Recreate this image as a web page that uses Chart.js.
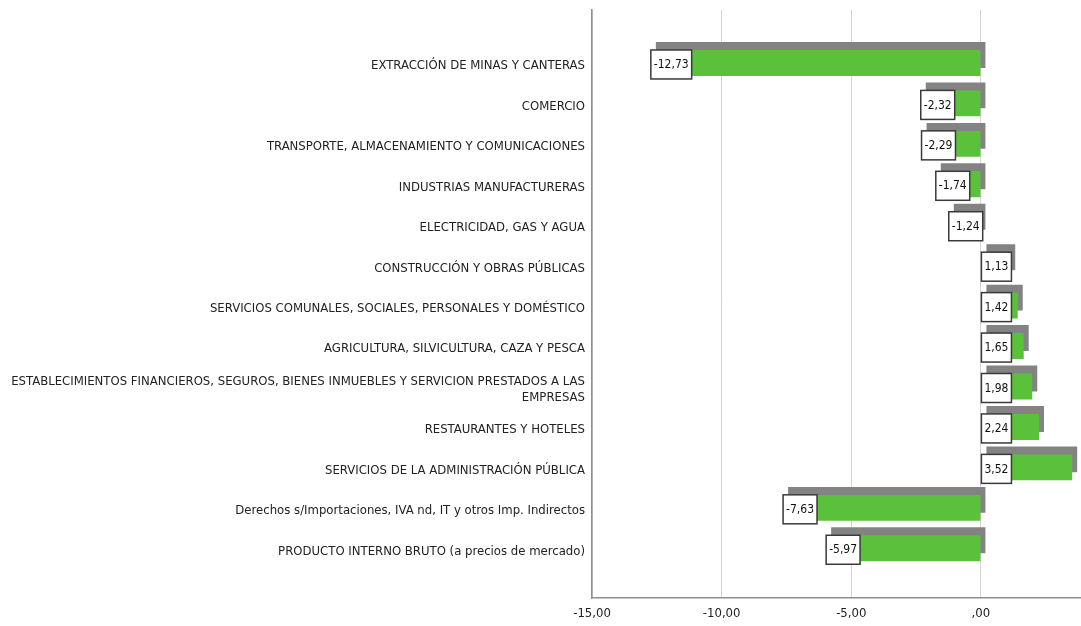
<!DOCTYPE html>
<html>
<head>
<meta charset="utf-8">
<script src="https://cdn.jsdelivr.net/npm/chart.js@4/dist/chart.umd.min.js"></script>
<style>
  body { margin: 0; background: #fff; }
  canvas { display: block; }
</style>
</head>
<body>
<canvas id="chart" width="1081" height="626"></canvas>
<script>
const categories = [
  'EXTRACCIÓN DE MINAS Y CANTERAS',
  'COMERCIO',
  'TRANSPORTE, ALMACENAMIENTO Y COMUNICACIONES',
  'INDUSTRIAS MANUFACTURERAS',
  'ELECTRICIDAD, GAS Y AGUA',
  'CONSTRUCCIÓN Y OBRAS PÚBLICAS',
  'SERVICIOS COMUNALES, SOCIALES, PERSONALES Y DOMÉSTICO',
  'AGRICULTURA, SILVICULTURA, CAZA Y PESCA',
  ['ESTABLECIMIENTOS FINANCIEROS, SEGUROS, BIENES INMUEBLES Y SERVICION PRESTADOS A LAS', 'EMPRESAS'],
  'RESTAURANTES Y HOTELES',
  'SERVICIOS DE LA ADMINISTRACIÓN PÚBLICA',
  'Derechos s/Importaciones, IVA nd, IT y otros Imp. Indirectos',
  'PRODUCTO INTERNO BRUTO (a precios de mercado)'
];
const values = [-12.73, -2.32, -2.29, -1.74, -1.24, 1.13, 1.42, 1.65, 1.98, 2.24, 3.52, -7.63, -5.97];
const xTicks = [-15, -10, -5, 0];

const FONT = "'Liberation Sans Narrow', 'Arial Narrow', 'DejaVu Sans Condensed', sans-serif";

// spss style numbers: comma decimal, no leading zero
const fmt = v => {
  let s = Math.abs(v).toFixed(2).replace('.', ',');
  if (s.startsWith('0,')) s = s.slice(1);
  return (v < 0 ? '-' : '') + s;
};

const shadowPlugin = {
  id: 'barShadow',
  beforeDatasetsDraw(chart) {
    const ctx = chart.ctx;
    ctx.save();
    ctx.shadowColor = '#838383';
    ctx.shadowOffsetX = 5;
    ctx.shadowOffsetY = -8;
    ctx.shadowBlur = 0;
  },
  afterDatasetsDraw(chart) {
    chart.ctx.restore();
  }
};

const labelPlugin = {
  id: 'valueBoxes',
  afterDatasetsDraw(chart) {
    const ctx = chart.ctx;
    const meta = chart.getDatasetMeta(0);
    ctx.save();
    ctx.font = '12px ' + FONT;
    ctx.textBaseline = 'middle';
    ctx.textAlign = 'left';
    meta.data.forEach((bar, i) => {
      const txt = fmt(values[i]);
      const w = ctx.measureText(txt).width + 6;
      const left = Math.min(bar.x, bar.base);
      const top = bar.y - 13;
      ctx.fillStyle = '#fff';
      ctx.fillRect(left, top, w, 29);
      ctx.strokeStyle = '#3a3a3a';
      ctx.lineWidth = 1.5;
      ctx.strokeRect(left, top, w, 29);
      ctx.fillStyle = '#111';
      ctx.fillText(txt, left + 3, top + 15);
    });
    ctx.restore();
  }
};

new Chart(document.getElementById('chart'), {
  type: 'bar',
  data: {
    datasets: [{
      data: values.map((v, i) => ({ x: v, y: i })),
      backgroundColor: '#5cc13a',
      borderWidth: 0,
      barPercentage: 0.64,
      categoryPercentage: 1
    }]
  },
  options: {
    indexAxis: 'y',
    responsive: false,
    animation: false,
    layout: { padding: { top: 10, left: 10, right: 0, bottom: 0 } },
    plugins: {
      legend: { display: false },
      tooltip: { enabled: false }
    },
    scales: {
      x: {
        type: 'linear',
        min: -15,
        max: 3.86,
        afterBuildTicks: s => { s.ticks = xTicks.map(v => ({ value: v })); },
        afterFit: s => { s.height = 28; s.paddingLeft = 0; s.paddingRight = 0; },
        grid: { color: '#d4d4d4', lineWidth: 1, drawTicks: false },
        border: { color: '#8f8f8f', width: 1.5 },
        ticks: {
          padding: 8,
          color: '#222',
          font: { family: FONT, size: 13 },
          callback: v => fmt(v)
        }
      },
      y: {
        type: 'linear',
        reverse: true,
        offset: false,
        bounds: 'data',
        min: -1.31,
        max: 13.23,
        afterBuildTicks: s => { s.ticks = categories.map((c, i) => ({ value: i })); },
        afterFit: s => { s.width = 582; s.paddingTop = 0; s.paddingBottom = 0; },
        grid: { display: false, drawTicks: false, offset: false },
        border: { color: '#8f8f8f', width: 1.5 },
        ticks: {
          padding: 7,
          labelOffset: 3,
          color: '#222',
          autoSkip: false,
          font: { family: FONT, size: 13 },
          callback: v => categories[v]
        }
      }
    }
  },
  plugins: [shadowPlugin, labelPlugin]
});
</script>
</body>
</html>
